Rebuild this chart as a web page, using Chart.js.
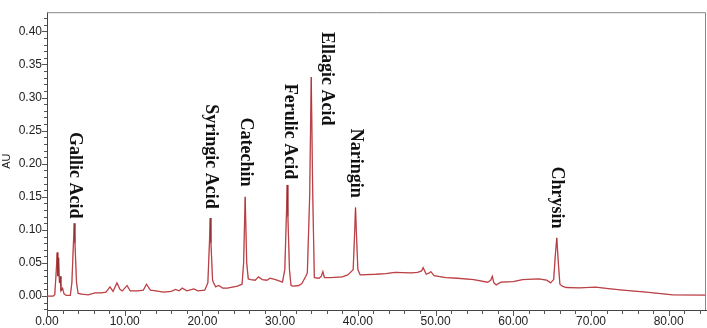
<!DOCTYPE html>
<html>
<head>
<meta charset="utf-8">
<script src="https://cdn.jsdelivr.net/npm/chart.js@4.4.1/dist/chart.umd.min.js"></script>
<style>
  html, body { margin: 0; padding: 0; background: #fff; }
  #wrap { width: 707px; height: 328px; }
</style>
</head>
<body>
<div id="wrap"><canvas id="chromChart"></canvas></div>
<script>
// retention time (min) and absorbance (AU)
const retentionTime = [
  0, 0.8, 1.0, 1.2, 1.3, 1.4, 1.5, 1.6, 1.7, 1.8, 2.0, 2.2, 2.5, 3.0, 3.2, 3.4, 3.5, 3.6, 3.8, 4.0,
  4.5, 5.3, 6.2, 7.0, 7.6, 8.1, 8.5, 9.0, 9.4, 9.7, 10.3, 10.7, 11.7, 12.4, 12.8, 13.3, 14.0, 15.0,
  16.0, 16.5, 17.0, 17.4, 18.0, 18.9, 19.4, 20.3, 20.7, 20.9, 21.0, 21.1, 21.3, 21.4, 21.7, 22.1,
  22.6, 23.2, 24.5, 25.1, 25.3, 25.5, 25.7, 25.9, 26.2, 26.8, 27.2, 27.7, 28.3, 28.7, 29.4, 30.3,
  30.6, 30.8, 30.9, 31.0, 31.2, 31.4, 31.7, 32.4, 32.8, 33.3, 33.5, 33.8, 34.0, 34.2, 34.4, 35.0,
  35.3, 35.5, 35.7, 36.5, 38.0, 38.7, 39.4, 39.6, 39.7, 39.8, 40.0, 40.3, 42.3, 43.6, 44.8, 46.8,
  47.7, 48.2, 48.4, 48.8, 49.2, 49.4, 49.8, 51.3, 52.8, 54.9, 56.7, 57.1, 57.3, 57.5, 57.8, 58.4,
  60.0, 61.2, 63.3, 64.3, 64.8, 65.2, 65.4, 65.6, 65.8, 66.0, 66.3, 66.8, 68.5, 70.6, 72.5, 74.1,
  77.1, 80.5, 84.8
];
const absorbance = [
  0.000, 0.000, 0.002, 0.040, 0.066, 0.030, 0.058, 0.020, 0.030, 0.008, 0.012, 0.003, 0.001, 0.001, 0.020, 0.080, 0.110, 0.080, 0.020, 0.004,
  0.003, 0.002, 0.005, 0.005, 0.006, 0.014, 0.007, 0.020, 0.010, 0.008, 0.016, 0.008, 0.008, 0.009, 0.018, 0.009, 0.008, 0.006,
  0.007, 0.010, 0.008, 0.012, 0.008, 0.011, 0.008, 0.009, 0.020, 0.080, 0.118, 0.080, 0.025, 0.021, 0.014, 0.016,
  0.012, 0.012, 0.015, 0.018, 0.050, 0.150, 0.050, 0.026, 0.025, 0.024, 0.029, 0.025, 0.024, 0.027, 0.025, 0.021,
  0.040, 0.120, 0.168, 0.120, 0.040, 0.016, 0.015, 0.016, 0.019, 0.030, 0.035, 0.150, 0.331, 0.150, 0.028, 0.027,
  0.030, 0.037, 0.028, 0.028, 0.029, 0.032, 0.040, 0.100, 0.134, 0.100, 0.040, 0.032, 0.033, 0.034, 0.036, 0.035,
  0.036, 0.038, 0.043, 0.033, 0.035, 0.037, 0.031, 0.028, 0.027, 0.025, 0.021, 0.024, 0.030, 0.020, 0.017, 0.021,
  0.022, 0.025, 0.026, 0.024, 0.020, 0.025, 0.060, 0.088, 0.050, 0.018, 0.015, 0.013, 0.0125, 0.0135, 0.011, 0.009,
  0.006, 0.002, 0.0015
];

const peakNames = ['Gallic Acid', 'Syringic Acid', 'Catechin', 'Ferulic Acid', 'Ellagic Acid', 'Naringin', 'Chrysin'];
// where each label sits: [time, AU at top of text]
const peakLabelAt = [[3.6, 0.248], [21.0, 0.290], [25.6, 0.270], [31.2, 0.321], [35.95, 0.399], [39.7, 0.253], [65.6, 0.196]];

const xTicks = [0, 10, 20, 30, 40, 50, 60, 70, 80];
const yTicks = [0, 0.05, 0.10, 0.15, 0.20, 0.25, 0.30, 0.35, 0.40];

const X_MIN = 0, X_MAX = 84.8, Y_MIN = -0.021, Y_MAX = 0.429;

const points = retentionTime.map((t, i) => ({ x: t, y: absorbance[i] }));

// minor ticks, frame and peak names
const extras = {
  id: 'extras',
  afterDraw(chart) {
    const ctx = chart.ctx;
    const a = chart.chartArea;
    const xs = chart.scales.x, ys = chart.scales.y;
    ctx.save();
    ctx.strokeStyle = '#555';
    ctx.lineWidth = 1;
    ctx.beginPath();
    for (let v = 0; v <= 84; v += 2) {
      const px = Math.round(xs.getPixelForValue(v)) + 0.5;
      const len = v % 10 === 0 ? 6 : 4;
      ctx.moveTo(px, a.bottom);
      ctx.lineTo(px, a.bottom + len);
    }
    for (let k = -2; k <= 42; k++) {
      const py = Math.round(ys.getPixelForValue(k / 100)) + 0.5;
      const len = k % 5 === 0 ? 5 : 3;
      ctx.moveTo(a.left, py);
      ctx.lineTo(a.left - len, py);
    }
    ctx.stroke();

    ctx.strokeStyle = '#888';
    ctx.beginPath();
    ctx.moveTo(a.left, a.top + 0.5);
    ctx.lineTo(a.right - 0.5, a.top + 0.5);
    ctx.lineTo(a.right - 0.5, a.bottom);
    ctx.stroke();

    ctx.fillStyle = '#111';
    ctx.font = 'bold 18px "Liberation Serif", "Times New Roman", serif';
    ctx.textAlign = 'left';
    ctx.textBaseline = 'middle';
    peakNames.forEach((name, i) => {
      const px = xs.getPixelForValue(peakLabelAt[i][0]);
      const py = ys.getPixelForValue(peakLabelAt[i][1]);
      ctx.save();
      ctx.translate(px, py);
      ctx.rotate(Math.PI / 2);
      ctx.fillText(name, 0, 0);
      ctx.restore();
    });
    ctx.restore();
  }
};

new Chart(document.getElementById('chromChart'), {
  type: 'line',
  data: {
    datasets: [
      {
        data: points,
        borderColor: '#e2575d',
        borderWidth: 1.3,
        pointRadius: 0,
        tension: 0,
        order: 2
      },
      {
        data: points,
        borderColor: 'rgba(90, 30, 30, 0.6)',
        borderWidth: 0.6,
        pointRadius: 0,
        tension: 0,
        order: 1
      }
    ]
  },
  options: {
    responsive: true,
    maintainAspectRatio: false,
    animation: false,
    layout: { padding: { top: 1, right: 1, left: 0, bottom: 0 } },
    plugins: {
      legend: { display: false },
      tooltip: { enabled: false }
    },
    scales: {
      x: {
        type: 'linear',
        min: X_MIN,
        max: X_MAX,
        afterBuildTicks: s => { s.ticks = xTicks.map(v => ({ value: v })); },
        afterFit: s => { s.height = 18; },
        grid: { display: false, drawTicks: false },
        border: { display: true, color: '#444', width: 1 },
        ticks: {
          padding: 4,
          maxRotation: 0,
          color: '#222',
          font: { family: 'Liberation Sans, Arial, sans-serif', size: 12 },
          callback: v => v.toFixed(2)
        }
      },
      y: {
        type: 'linear',
        min: Y_MIN,
        max: Y_MAX,
        afterBuildTicks: s => { s.ticks = yTicks.map(v => ({ value: v })); },
        afterFit: s => { s.width = 47; },
        grid: { display: false, drawTicks: false },
        border: { display: true, color: '#444', width: 1 },
        title: {
          display: true,
          text: 'AU',
          color: '#222',
          padding: 0,
          font: { family: 'Liberation Sans, Arial, sans-serif', size: 11 }
        },
        ticks: {
          padding: 5,
          color: '#222',
          font: { family: 'Liberation Sans, Arial, sans-serif', size: 12 },
          callback: v => v.toFixed(2)
        }
      }
    }
  },
  plugins: [extras]
});
</script>
</body>
</html>
